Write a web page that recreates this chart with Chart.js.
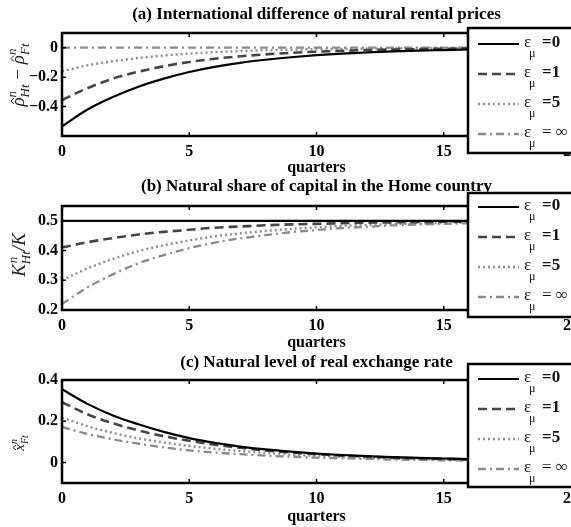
<!DOCTYPE html>
<html><head><meta charset="utf-8">
<script src="https://cdn.jsdelivr.net/npm/chart.js@4"></script>
<style>
html,body{margin:0;padding:0;background:#fff;width:571px;height:527px;overflow:hidden}
canvas{position:absolute;left:0}
</style></head><body>
<canvas id="ca"></canvas><canvas id="cb"></canvas><canvas id="cc"></canvas>
<script>
// ---------- data ----------
const quarters = [0,1,2,3,4,5,6,7,8,9,10,11,12,13,14,15,16,17,18,19,20];
const epsLabels = ['=0','=1','=5','= \u221e'];
const xTicks = [0,5,10,15,20];

const titleA = '(a) International difference of natural rental prices';
const titleB = '(b) Natural share of capital in the Home country';
const titleC = '(c) Natural level of real exchange rate';
const xTitle = 'quarters';

const yTicksA = [-0.4,-0.2,0];
const rentalEps0   = [-0.535,-0.42,-0.335,-0.265,-0.21,-0.165,-0.13,-0.103,-0.082,-0.065,-0.051,-0.04,-0.032,-0.025,-0.02,-0.016,-0.012,-0.01,-0.008,-0.006,-0.005];
const rentalEps1   = [-0.355,-0.275,-0.21,-0.163,-0.126,-0.097,-0.075,-0.058,-0.045,-0.035,-0.027,-0.021,-0.016,-0.012,-0.01,-0.007,-0.006,-0.004,-0.003,-0.003,-0.002];
const rentalEps5   = [-0.16,-0.12,-0.092,-0.07,-0.053,-0.04,-0.03,-0.023,-0.017,-0.013,-0.01,-0.008,-0.006,-0.004,-0.003,-0.003,-0.002,-0.002,-0.001,-0.001,-0.001];
const rentalEpsInf = [0,0,0,0,0,0,0,0,0,0,0,0,0,0,0,0,0,0,0,0,0];

const yTicksB = [0.2,0.3,0.4,0.5];
const shareEps0   = [0.5,0.5,0.5,0.5,0.5,0.5,0.5,0.5,0.5,0.5,0.5,0.5,0.5,0.5,0.5,0.5,0.5,0.5,0.5,0.5,0.5];
const shareEps1   = [0.41,0.428,0.442,0.454,0.463,0.470,0.477,0.481,0.485,0.488,0.490,0.492,0.494,0.495,0.496,0.497,0.4975,0.498,0.4985,0.499,0.499];
const shareEps5   = [0.30,0.34,0.372,0.398,0.418,0.434,0.448,0.458,0.466,0.473,0.478,0.483,0.486,0.489,0.491,0.493,0.494,0.4955,0.4965,0.497,0.4975];
const shareEpsInf = [0.22,0.276,0.32,0.357,0.385,0.408,0.427,0.441,0.452,0.462,0.469,0.476,0.480,0.485,0.488,0.490,0.492,0.494,0.495,0.496,0.4965];

const yTicksC = [0,0.2,0.4];
const rerEps0   = [0.355,0.284,0.228,0.185,0.148,0.118,0.095,0.077,0.063,0.052,0.043,0.036,0.030,0.026,0.022,0.019,0.016,0.014,0.012,0.011,0.01];
const rerEps1   = [0.292,0.234,0.19,0.155,0.127,0.105,0.086,0.071,0.058,0.048,0.04,0.033,0.028,0.023,0.02,0.017,0.014,0.012,0.011,0.009,0.008];
const rerEps5   = [0.217,0.176,0.143,0.117,0.097,0.08,0.066,0.055,0.046,0.038,0.032,0.027,0.023,0.019,0.016,0.014,0.012,0.01,0.009,0.008,0.007];
const rerEpsInf = [0.172,0.138,0.112,0.091,0.073,0.058,0.048,0.04,0.033,0.028,0.023,0.02,0.017,0.014,0.012,0.01,0.009,0.008,0.007,0.006,0.005];

// ---------- styles ----------
const SERIF = "'Liberation Serif','Times New Roman',serif";
const styles = [
  {color:'#000000', width:2.2, dash:[]},
  {color:'#454545', width:2.6, dash:[9,5]},
  {color:'#8f8f8f', width:2.5, dash:[2,3]},
  {color:'#8a8a8a', width:2.3, dash:[8,4,2,4]}
];

function fmt(v){
  if (Math.abs(v) < 1e-9) return '0';
  const s = String(Math.abs(Math.round(v*10)/10));
  return v < 0 ? '\u2212' + s : s;
}

function drawRich(ctx, segs, cx, cy) {
  ctx.save();
  ctx.translate(cx, cy);
  ctx.rotate(-Math.PI/2);
  ctx.textBaseline = 'alphabetic';
  let w = 0;
  for (const s of segs) { if (s.hat) continue; ctx.font = s.f; const m = ctx.measureText(s.t).width; s._w = m; if (!s.noAdv) w += m; }
  let x = -w/2, lastX = 0, lastW = 0;
  for (const s of segs) {
    if (s.hat) {
      const hx = lastX + lastW/2 + (s.dx||0);
      ctx.strokeStyle = '#222'; ctx.lineWidth = 1;
      ctx.beginPath();
      ctx.moveTo(hx - s.w/2, s.dy + s.h);
      ctx.lineTo(hx, s.dy);
      ctx.lineTo(hx + s.w/2, s.dy + s.h);
      ctx.stroke();
      continue;
    }
    ctx.font = s.f; ctx.fillStyle = '#222';
    ctx.textAlign = 'left';
    ctx.fillText(s.t, x + (s.dx||0), s.dy || 0);
    if (!s.noAdv) { lastX = x; lastW = s._w; x += s._w; }
  }
  ctx.restore();
}

// ---------- plugins ----------
const frame = {
  id: 'frame',
  afterDatasetsDraw(chart) {
    const {ctx, chartArea: a, scales: {x, y}} = chart;
    ctx.save();
    ctx.strokeStyle = '#000'; ctx.lineWidth = 1.5;
    const t = 4;
    ctx.beginPath();
    x.ticks.forEach(tk => {
      const px = x.getPixelForValue(tk.value);
      ctx.moveTo(px, a.bottom); ctx.lineTo(px, a.bottom - t);
      ctx.moveTo(px, a.top); ctx.lineTo(px, a.top + t);
    });
    y.ticks.forEach(tk => {
      const py = y.getPixelForValue(tk.value);
      ctx.moveTo(a.left, py); ctx.lineTo(a.left + t, py);
      ctx.moveTo(a.right, py); ctx.lineTo(a.right - t, py);
    });
    ctx.stroke();
    ctx.lineWidth = 2.5;
    ctx.strokeRect(a.left, a.top, a.right - a.left, a.bottom - a.top);
    ctx.restore();
  },
  afterDraw(chart, args, opts) {
    const {ctx} = chart;
    if (opts.ylabel) drawRich(ctx, opts.ylabel, opts.ylx, opts.yly);
    const L = opts.legend;
    ctx.save();
    ctx.fillStyle = '#fff';
    ctx.fillRect(L.x, L.top, 200, L.h);
    ctx.strokeStyle = '#000'; ctx.lineWidth = 2.5;
    ctx.strokeRect(L.x, L.top, 200, L.h);
    chart.data.datasets.forEach((ds, i) => {
      const yy = L.top + L.first + i * L.step;
      ctx.strokeStyle = ds.borderColor; ctx.lineWidth = ds.borderWidth;
      ctx.setLineDash(ds.borderDash || []);
      ctx.beginPath(); ctx.moveTo(L.x + 10, yy); ctx.lineTo(L.x + 51, yy); ctx.stroke();
      ctx.setLineDash([]);
      ctx.fillStyle = '#111';
      ctx.textAlign = 'left'; ctx.textBaseline = 'alphabetic';
      ctx.font = '17px ' + SERIF;
      ctx.fillText('\u03b5', L.x + 56, yy + 3);
      ctx.font = '12px ' + SERIF;
      ctx.fillText('\u03bc', L.x + 61, yy + 13);
      ctx.font = (i === 3 ? '' : 'bold ') + '17px ' + SERIF;
      ctx.fillText(ds.label, L.x + 74, yy + 3);
    });
    ctx.restore();
  }
};

function makeChart(id, cfg) {
  const cv = document.getElementById(id);
  cv.width = 571; cv.height = cfg.H;
  cv.style.top = cfg.top + 'px';
  cv.style.width = '571px'; cv.style.height = cfg.H + 'px';
  const tSize = 17;
  const titleLH = tSize * 1.2;
  const tPadTop = cfg.titleY - cfg.top - titleLH/2;
  const tPadBot = cfg.chartTop - cfg.top - tPadTop - titleLH;
  const xLH = 16 * 1.2;
  const xPadBot = cfg.top + cfg.H - cfg.quartersY - xLH/2;
  const xHeight = cfg.top + cfg.H - cfg.chartBottom;
  return new Chart(cv, {
    type: 'line',
    data: {
      datasets: cfg.series.map((arr, i) => ({
        label: epsLabels[i],
        data: quarters.map((q, k) => ({x: q, y: arr[k]})),
        borderColor: styles[i].color,
        borderWidth: styles[i].width,
        borderDash: styles[i].dash,
        pointRadius: 0,
        fill: false,
        cubicInterpolationMode: 'monotone'
      }))
    },
    options: {
      responsive: false,
      animation: false,
      layout: {padding: 0},
      plugins: {
        legend: {display: false},
        tooltip: {enabled: false},
        title: {
          display: true, text: cfg.title, fullSize: false, color: '#000',
          font: {family: SERIF, size: tSize, weight: 'bold'},
          padding: {top: tPadTop, bottom: tPadBot}
        },
        frame: {
          ylabel: cfg.ylabel, ylx: cfg.ylx, yly: cfg.yly - cfg.top,
          legend: {x: 468, top: cfg.legTop - cfg.top, h: cfg.legH, first: cfg.legFirst, step: 30}
        }
      },
      scales: {
        x: {
          type: 'linear', min: 0, max: 20,
          afterBuildTicks: s => { s.ticks = xTicks.map(v => ({value: v})); },
          afterFit: s => { s.height = xHeight; s.paddingLeft = 0; s.paddingRight = 0; },
          grid: {display: false, drawTicks: false},
          border: {display: false},
          ticks: {color: '#000', padding: 6, maxRotation: 0, font: {family: SERIF, size: 16, weight: 'bold'}, callback: v => String(v)},
          title: {display: true, text: xTitle, color: '#000', font: {family: SERIF, size: 16, weight: 'bold'}, padding: {top: 0, bottom: xPadBot}}
        },
        y: {
          type: 'linear', min: cfg.ymin, max: cfg.ymax,
          afterBuildTicks: s => { s.ticks = cfg.yTicks.map(v => ({value: v})); },
          afterFit: s => { s.width = 62; s.paddingTop = 0; s.paddingBottom = 0; },
          grid: {display: false, drawTicks: false},
          border: {display: false},
          ticks: {color: '#000', padding: 4, font: {family: SERIF, size: 16, weight: 'bold'}, callback: v => fmt(v)}
        }
      }
    },
    plugins: [frame]
  });
}

const IT = 'italic 19px ' + SERIF, SC = 'italic 13px ' + SERIF, RG = '19px ' + SERIF;
const ylabA = [
  {t:'\u03c1', f:IT}, {hat:true, dy:-13, w:6, h:3, dx:1},
  {t:'n', f:SC, dy:-8, noAdv:true}, {t:'Ht', f:SC, dy:5},
  {t:' \u2212 ', f:RG},
  {t:'\u03c1', f:IT}, {hat:true, dy:-13, w:6, h:3, dx:1},
  {t:'n', f:SC, dy:-8, noAdv:true}, {t:'Ft', f:SC, dy:5}
];
const ylabB = [
  {t:'K', f:IT}, {t:'n', f:SC, dy:-8, noAdv:true, dx:1}, {t:'Ht', f:SC, dy:5},
  {t:'/', f:IT}, {t:'K', f:IT}
];
const IT2 = 'italic 15px ' + SERIF, SC2 = 'italic 10px ' + SERIF;
const ylabC = [
  {t:'x', f:IT2}, {hat:true, dy:-11, w:5, h:3},
  {t:'n', f:SC2, dy:-7, noAdv:true}, {t:'Ft', f:SC2, dy:4}
];

makeChart('ca', {top: 0, H: 180, titleY: 15, chartTop: 33, chartBottom: 136, quartersY: 168,
  title: titleA, ymin: -0.6, ymax: 0.1, yTicks: yTicksA,
  series: [rentalEps0, rentalEps1, rentalEps5, rentalEpsInf],
  ylabel: ylabA, ylx: 24, yly: 75, legTop: 28, legH: 125, legFirst: 16});
makeChart('cb', {top: 170, H: 185, titleY: 187, chartTop: 206, chartBottom: 310, quartersY: 343,
  title: titleB, ymin: 0.2, ymax: 0.55, yTicks: yTicksB,
  series: [shareEps0, shareEps1, shareEps5, shareEpsInf],
  ylabel: ylabB, ylx: 25, yly: 255, legTop: 193, legH: 124, legFirst: 14});
makeChart('cc', {top: 345, H: 182, titleY: 363, chartTop: 380, chartBottom: 483, quartersY: 517,
  title: titleC, ymin: -0.1, ymax: 0.4, yTicks: yTicksC,
  series: [rerEps0, rerEps1, rerEps5, rerEpsInf],
  ylabel: ylabC, ylx: 24, yly: 443, legTop: 364, legH: 123, legFirst: 15});
</script>
</body></html>
